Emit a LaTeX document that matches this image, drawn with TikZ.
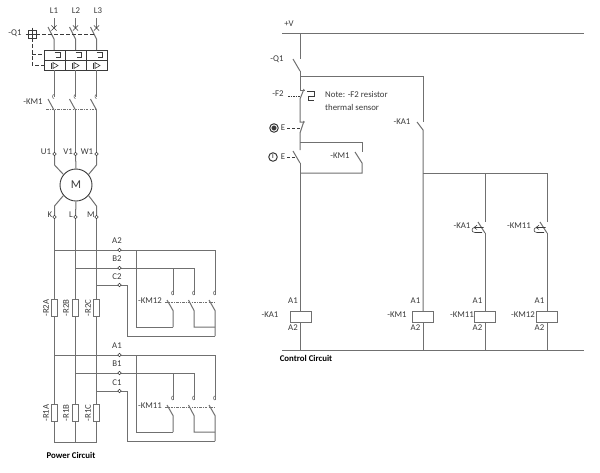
\documentclass[tikz,border=0pt]{standalone}
\usepackage{fontspec}
\setmainfont{Carlito}
\definecolor{wire}{HTML}{707070}
\definecolor{ink}{HTML}{3A3A3A}
\tikzset{
  wireline/.style={draw=wire,line width=1pt},
  darkline/.style={draw=ink,line width=0.7pt},
  dashlink/.style={draw=ink,line width=1pt,dash pattern=on 3.5pt off 2.5pt},
  mechlink/.style={draw=wire,line width=0.5pt,dash pattern=on 2.5pt off 1.2pt on 0.8pt off 1.2pt},
  lab/.style={font=\fontsize{8.8}{10}\selectfont,text=ink,inner sep=0pt},
  boldlab/.style={font=\fontsize{8.8}{10}\selectfont\bfseries,text=black,inner sep=0pt},
  term/.style={circle,draw=ink,fill=white,line width=0.5pt,minimum size=3.4pt,inner sep=0pt},
  resistor/.style={rectangle,draw=wire,fill=white,line width=0.8pt,minimum width=5.5pt,minimum height=17pt,inner sep=0pt},
  coil/.style={rectangle,draw=wire,fill=white,line width=0.8pt,minimum width=21pt,minimum height=11pt,inner sep=0pt},
  ncarrow/.pic={
    \draw[wireline] (-7,0) -- (0,11);
    \draw[darkline,line width=0.55pt] (-1.5,5.5) -- (-10,5.5) .. controls (-14,5.5) and (-14,10.5) .. (-10,10.5) -- (-3,10.5);
    \draw[darkline,line width=0.55pt] (-8,3.2) -- (-11,5.5) -- (-8,7.5);
  },
  isoX/.pic={\draw[darkline] (-2.6,-2.6) -- (2.6,2.6) (-2.6,2.6) -- (2.6,-2.6);},
  overload/.pic={
    \draw[darkline,line width=0.6pt] (0,0) -- (6,0) -- (6,5) -- (1,5);
    \draw[darkline,line width=0.7pt] (-3.5,10.5) -- (-3.5,16.5);
    \draw[darkline,line width=0.6pt] (-1.5,10.5) -- (3.5,13.5) -- (-1.5,16.5) -- cycle;
  }
}
\begin{document}
\begin{tikzpicture}[x=1pt,y=-1pt]
\useasboundingbox[fill=white] (0,0) rectangle (600,472);

% ---------- Power circuit ----------
\node[lab] (L1) at (54,11) {L1};
\node[lab] (L2) at (76,11) {L2};
\node[lab] (L3) at (98,11) {L3};
\foreach \x/\n in {54/a,75.5/b,96.5/c}{
  \coordinate (in\n) at (\x,18);
  \coordinate (ct\n) at (\x,28);
  \coordinate (cb\n) at (\x,39);
  \coordinate (bt\n) at (\x,50);
  \draw[wireline] (in\n) -- (ct\n);
  \pic at (ct\n) {isoX};
  \draw[wireline] (\x-6,27) -- (cb\n) -- (bt\n);
}
\node[lab] (Q1) at (15,33) {-Q1};
\node[rectangle,draw=ink,line width=0.5pt,minimum size=8pt,inner sep=0pt] (handle) at (32,34) {};
\draw[darkline,line width=0.5pt] (32,27.5) -- (32,40.5) (25.5,34) -- (38.5,34);
\draw[dashlink] (handle.east) -- (95,34);
\draw[dashlink] (handle.south) -- (32,65) -- (44,65);
\draw[dashlink] (32,54) -- (44,54);
\draw[darkline,fill=white] (44.5,50) rectangle (107,70);
\draw[darkline] (44.5,60) -- (107,60) (65.3,50) -- (65.3,70) (86,50) -- (86,70);
\foreach \x in {54.5,75.5,96.5}{\pic at (\x,52) {overload};}
\foreach \x/\n in {54/a,75.5/b,96.5/c}{
  \coordinate (kt\n) at (\x,97);
  \coordinate (kb\n) at (\x,110);
  \coordinate (ut\n) at (\x,154);
  \draw[wireline] (\x,70) -- (kt\n);
  \draw[wireline] (\x,110) -- (ut\n);
  \draw[wireline,line width=0.6pt] (\x,98.5) arc (-90:90:-1.5 and -2);
  \draw[wireline] (\x-6,99) -- (kb\n);
}
\node[lab] (KM1p) at (33,102) {-KM1};
\draw[mechlink] (46,109) -- (97,109);

\node[lab] (U1) at (46,152) {U1};
\node[lab] (V1) at (68,152) {V1};
\node[lab] (W1) at (87,152) {W1};
\node[circle,draw=ink,line width=0.9pt,minimum size=32pt,inner sep=0pt,font=\fontsize{12}{13}\selectfont,text=ink] (motor) at (76,185) {M};
\node[term] (tU) at (54.5,154) {};
\node[term] (tV) at (75.5,154) {};
\node[term] (tW) at (96.5,154) {};
\draw[wireline] (tU) -- (54.5,165) -- (motor.140);
\draw[wireline] (tV) -- (motor.north);
\draw[wireline] (tW) -- (96.5,165) -- (motor.40);
\node[lab] (K) at (50,215) {K};
\node[lab] (Lt) at (71,215) {L};
\node[lab] (Mt) at (91,215) {M};
\node[term] (tK) at (54.5,217) {};
\node[term] (tL) at (75.5,217) {};
\node[term] (tM) at (96.5,217) {};
\draw[wireline] (motor.220) -- (54.5,206) -- (tK);
\draw[wireline] (motor.south) -- (tL);
\draw[wireline] (motor.320) -- (96.5,206) -- (tM);

% resistor legs
\coordinate (ba) at (54.5,442); \coordinate (bc) at (96.5,442);
\draw[wireline] (tK) -- (ba) -- (bc) -- (tM);
\draw[wireline] (tL) -- (75.5,442);
\foreach \x/\n/\lx in {54.5/A/46,75.5/B/66,96.5/C/88}{
  \node[resistor] (R2\n) at (\x,308) {};
  \node[lab,rotate=90] (lR2\n) at (\lx,308) {-R2\n};
  \node[resistor] (R1\n) at (\x,413) {};
  \node[lab,rotate=90] (lR1\n) at (\lx,413) {-R1\n};
}

% KM12 / KM11 groups
\foreach \ya/\yb/\yc/\ym/\ys/\yl/\yn/\na/\nb/\nc/\nk in
  {250/268/285/327/336/301/2/A2/B2/C2/-KM12, 355/373/391/432/441/406/1/A1/B1/C1/-KM11}{
  \draw[wireline] (54.5,\ya) -- (215,\ya);
  \draw[wireline] (75.5,\yb) -- (194,\yb);
  \draw[wireline] (96.5,\yc) -- (127,\yc) -- (127,\ys) -- (215,\ys);
  \draw[wireline] (136,\ya) -- (136,\ym) -- (173,\ym);
  \node[lab] at (117,\ya-9.5) {\na};
  \node[lab] at (117,\yb-9) {\nb};
  \node[lab] at (117,\yc-8.5) {\nc};
  \node[term] at (119.5,\ya) {};
  \node[term] at (119.5,\yb) {};
  \node[term] at (119.5,\yc) {};
  \node[lab] at (150,\yl) {\nk};
  \pgfmathsetmacro{\ct}{\yl-6}
  \pgfmathsetmacro{\cb}{\yl+9.5}
  \pgfmathsetmacro{\cs}{\yl-1}
  \draw[wireline] (173,\yb) -- (173,\ct) (194,\yb) -- (194,\ct) (215,\ya) -- (215,\ct);
  \draw[wireline,line width=0.6pt] (173,\ct) arc (-90:90:-1.5 and -2) (194,\ct) arc (-90:90:-1.5 and -2) (215,\ct) arc (-90:90:-1.5 and -2);
  \draw[wireline] (167,\cs) -- (173,\cb) -- (173,\ym);
  \draw[wireline] (188.5,\cs) -- (194,\cb) -- (194,\ym) -- (215,\ym);
  \draw[wireline] (209,\cs) -- (215,\cb) -- (215,\ys);
  \pgfmathsetmacro{\md}{\yl+1.5}
  \draw[mechlink] (165,\md) -- (215,\md);
}
\node[boldlab] (PC) at (71,455) {Power Circuit};

% ---------- Control circuit ----------
\node[lab] (PV) at (289,24) {+V};
\coordinate (railL) at (282,33); \coordinate (railR) at (584,33);
\draw[wireline] (railL) -- (railR);
\coordinate (n1) at (300,33); \coordinate (n2) at (300,59); \coordinate (n3) at (300,71);
\draw[wireline] (n1) -- (n2);
\node[lab] (Q1c) at (277,59) {-Q1};
\draw[wireline] (293,59) -- (n3);
\coordinate (j1) at (300,76); \coordinate (j2) at (423,76);
\draw[wireline] (n3) -- (300,90) -- (304.5,90);
\draw[wireline] (j1) -- (j2) -- (423,122);
\draw[wireline] (304,89) -- (300,99) -- (300,122) -- (304.5,122);
\node[lab] (F2) at (278,94) {-F2};
\draw[darkline,line width=0.6pt,dash pattern=on 1.5pt off 1pt] (288,96) -- (300,96);
\draw[darkline,line width=0.6pt] (307,91) -- (314,91) -- (314,96) -- (308,96) -- (308,100) -- (314,100);
\node[lab,align=left,anchor=west] (note) at (325,95) {Note: -F2 resistor};
\node[lab,align=left,anchor=west] (note2) at (325,107) {thermal sensor};
% buttons
\node[circle,draw=ink,line width=1pt,minimum size=8.5pt,inner sep=0pt] (bt2) at (274,128) {};
\node[circle,fill=ink,draw=ink,line width=0.4pt,minimum size=4.5pt,inner sep=0pt] at (274,128) {};
\node[lab] (E2) at (283,128) {E};
\draw[darkline,line width=0.6pt,dash pattern=on 3pt off 2pt] (287,128) -- (300,128);
\draw[wireline] (304,121) -- (300,133) -- (300,150);
\node[circle,draw=ink,line width=1pt,minimum size=8.5pt,inner sep=0pt,font=\fontsize{6}{6}\selectfont\bfseries,text=ink] (bt1) at (273,157) {I};
\node[lab] (E1) at (283,157) {E};
\draw[darkline,line width=0.6pt,dash pattern=on 3pt off 2pt] (287,157) -- (296,157);
\draw[wireline] (293,151) -- (300,163);
\coordinate (kc) at (300,311);
\draw[wireline] (300,163) -- (kc);
\coordinate (h1) at (300,142); \coordinate (h2) at (362,142);
\draw[wireline] (h1) -- (h2) -- (362,152);
\draw[wireline] (355,152) -- (362,163) -- (362,173) -- (300,173);
\node[lab] (KM1c) at (340,156) {-KM1};
\node[lab] (KA1c) at (402,122) {-KA1};
\draw[wireline] (417,122) -- (423,130) -- (423,311);
\draw[wireline] (423,173) -- (547,173);
\draw[wireline] (485,173) -- (485,222);
\draw[wireline] (547,173) -- (547,222);
\pic at (485,222) {ncarrow};
\pic at (547,222) {ncarrow};
\draw[wireline] (485,233) -- (485,311) (547,233) -- (547,311);
\node[lab] (KA1d) at (462,226) {-KA1};
\node[lab] (KM11d) at (519,226) {-KM11};

\coordinate (railB1) at (282,350); \coordinate (railB2) at (584,350);
\draw[wireline,line width=0.7pt] (railB1) -- (railB2);
\foreach \x/\nm/\lx in {300.5/-KA1/270,423/-KM1/397,485/-KM11/462,547/-KM12/523}{
  \node[coil] (c\lx) at (\x,316.5) {};
  \draw[wireline] (c\lx.south) -- (\x,350);
  \node[lab] at (\x-7.5,301) {A1};
  \node[lab] at (\x-7.5,328) {A2};
  \node[lab] at (\lx,315) {\nm};
}
\node[boldlab] (CC) at (306,358) {Control Circuit};
\end{tikzpicture}
\end{document}
